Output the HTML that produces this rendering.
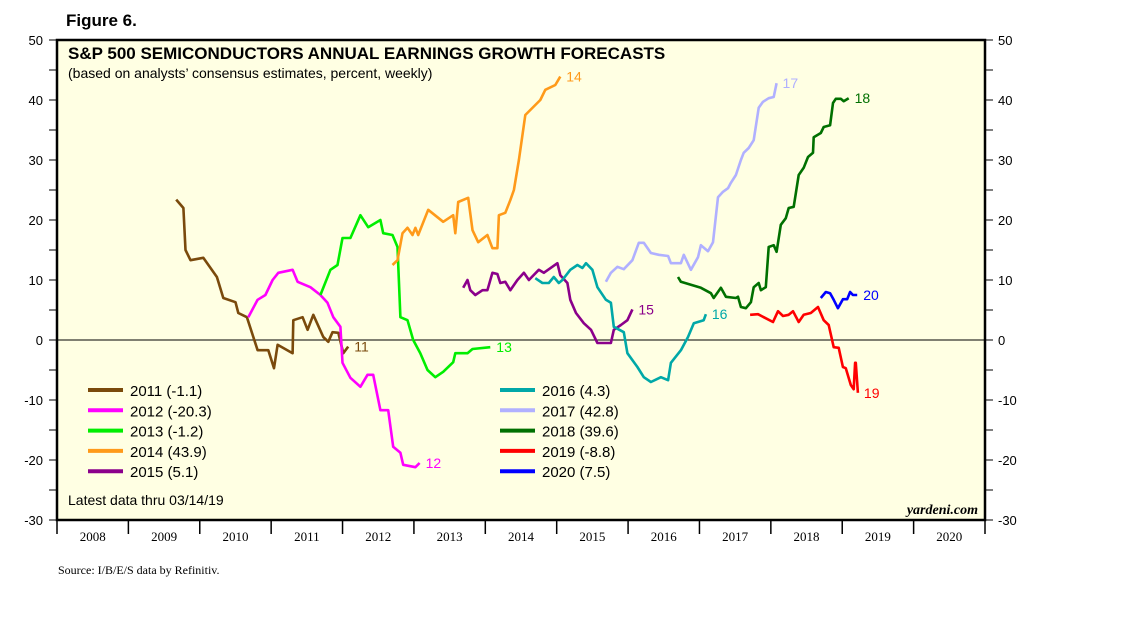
<!DOCTYPE html>
<html><head><meta charset="utf-8"><style>
body{margin:0;background:#fff;width:1138px;height:621px;overflow:hidden;font-family:"Liberation Sans",sans-serif}
</style></head><body>
<svg id="c" width="1138" height="621" xmlns="http://www.w3.org/2000/svg"></svg>
<script>
const yearLabels=[2008,2009,2010,2011,2012,2013,2014,2015,2016,2017,2018,2019,2020];
const yTicks=[-30,-20,-10,0,10,20,30,40,50];
const seriesNames=["11","12","13","14","15","16","17","18","19","20"];
const seriesColors=["#7a4a0c","#ff00ff","#00ee00","#ff9a1a","#8b008b","#00a8a8","#b0b0ff","#007000","#ff0000","#0000ff"];
const legendLabels=["2011 (-1.1)","2012 (-20.3)","2013 (-1.2)","2014 (43.9)","2015 (5.1)","2016 (4.3)","2017 (42.8)","2018 (39.6)","2019 (-8.8)","2020 (7.5)"];
const t11=[2009.67,2009.77,2009.80,2009.87,2010.05,2010.24,2010.33,2010.50,2010.54,2010.66,2010.81,2010.96,2011.04,2011.09,2011.30,2011.31,2011.44,2011.51,2011.59,2011.73,2011.80,2011.86,2011.94,2012.01,2012.08];
const v11=[23.4,22,15,13.3,13.7,10.5,7,6.3,4.5,3.8,-1.7,-1.7,-4.7,-0.8,-2.2,3.3,3.8,1.7,4.2,0.5,-0.3,1.3,1.2,-2.2,-1.1];
const t12=[2010.68,2010.81,2010.92,2011.02,2011.10,2011.30,2011.37,2011.55,2011.69,2011.79,2011.87,2011.97,2012.00,2012.11,2012.25,2012.35,2012.43,2012.53,2012.64,2012.71,2012.81,2012.85,2013.02,2013.08];
const v12=[3.8,6.7,7.5,10,11.2,11.7,9.7,8.8,7.5,6.2,3.8,2.2,-3.8,-6.3,-7.8,-5.8,-5.8,-11.7,-11.7,-17.8,-18.8,-20.8,-21.2,-20.5];
const t13=[2011.69,2011.83,2011.93,2012.00,2012.11,2012.25,2012.36,2012.53,2012.57,2012.70,2012.77,2012.81,2012.91,2012.99,2013.09,2013.19,2013.30,2013.41,2013.55,2013.58,2013.75,2013.82,2014.07];
const v13=[7.5,11.7,12.5,17,17,20.8,18.8,20,17.8,17.5,15.5,3.8,3.3,0,-2.2,-5,-6.2,-5.3,-3.7,-2.2,-2.2,-1.5,-1.2];
const t14=[2012.70,2012.77,2012.84,2012.91,2012.98,2013.02,2013.06,2013.20,2013.41,2013.55,2013.58,2013.62,2013.76,2013.82,2013.90,2014.03,2014.10,2014.17,2014.19,2014.28,2014.35,2014.40,2014.47,2014.56,2014.77,2014.84,2014.98,2015.05];
const v14=[12.5,13.3,17.8,18.7,17.5,18.7,17.5,21.7,19.7,20.8,17.8,23,23.7,18.3,16.3,17.5,15.3,15.3,20.8,21.2,23.3,25,30,37.5,40,41.7,42.5,43.9];
const t15=[2013.69,2013.75,2013.79,2013.86,2013.96,2014.03,2014.10,2014.17,2014.21,2014.28,2014.35,2014.45,2014.54,2014.61,2014.75,2014.82,2015.01,2015.05,2015.15,2015.19,2015.27,2015.38,2015.48,2015.57,2015.76,2015.80,2015.90,2015.99,2016.06];
const v15=[8.7,10,8.3,7.5,8.3,8.3,11.2,11,9.5,9.7,8.3,10,11.2,10,11.7,11.2,12.8,10.8,9.5,6.7,4.5,2.8,1.7,-0.5,-0.5,1.7,2.5,3.3,5.1];
const t16=[2014.70,2014.80,2014.89,2014.96,2015.03,2015.08,2015.19,2015.29,2015.36,2015.41,2015.50,2015.57,2015.69,2015.76,2015.80,2015.94,2015.99,2016.13,2016.22,2016.32,2016.46,2016.56,2016.60,2016.74,2016.84,2016.92,2017.06,2017.09];
const v16=[10.3,9.5,9.5,10.5,9.5,10,11.7,12.5,12,12.8,11.7,8.8,6.7,6.2,2.2,1.3,-2.2,-4.5,-6.2,-7,-6.2,-6.7,-3.8,-1.7,0.5,2.8,3.3,4.3];
const t17=[2015.69,2015.76,2015.85,2015.94,2016.06,2016.15,2016.22,2016.32,2016.43,2016.56,2016.60,2016.74,2016.78,2016.88,2016.98,2017.02,2017.12,2017.19,2017.26,2017.33,2017.40,2017.44,2017.51,2017.58,2017.62,2017.69,2017.76,2017.83,2017.89,2017.97,2018.04,2018.08];
const v17=[9.7,11.2,12.2,11.8,13.3,16.2,16.2,14.5,14.2,14,12.8,12.8,14.2,11.7,13.8,15.8,14.8,16.3,23.8,24.7,25.3,26.2,27.5,30,31.2,32,33.3,38.7,39.7,40.3,40.5,42.8];
const t18=[2016.70,2016.74,2016.88,2017.02,2017.16,2017.20,2017.30,2017.37,2017.51,2017.54,2017.58,2017.65,2017.72,2017.76,2017.83,2017.86,2017.93,2017.97,2018.04,2018.08,2018.14,2018.21,2018.25,2018.32,2018.39,2018.46,2018.52,2018.59,2018.60,2018.70,2018.74,2018.83,2018.87,2018.91,2018.98,2019.02,2019.09];
const v18=[10.5,9.7,9.2,8.7,7.8,7,8.7,7.2,7,7.2,5.5,5.3,6.3,8.8,9.5,8.3,8.8,15.5,15.8,14.7,19.2,20.3,22,22.2,27.5,28.7,30.5,31.2,33.8,34.5,35.5,35.8,39.5,40.2,40.2,39.8,40.3];
const t19=[2017.71,2017.82,2017.90,2018.03,2018.10,2018.17,2018.25,2018.31,2018.39,2018.46,2018.56,2018.66,2018.74,2018.81,2018.88,2018.95,2019.01,2019.05,2019.12,2019.16,2019.18,2019.19,2019.22];
const v19=[4.2,4.3,3.8,3,4.8,4,4.2,4.8,3,4.2,4.5,5.5,3.3,2.5,-1.2,-1.3,-4.5,-4.7,-7.5,-8.2,-3.8,-3.8,-8.8];
const t20=[2018.70,2018.77,2018.83,2018.88,2018.94,2019.01,2019.07,2019.11,2019.15,2019.21];
const v20=[7,8,7.8,6.7,5.3,6.8,6.8,8,7.5,7.5];
const allT=[t11,t12,t13,t14,t15,t16,t17,t18,t19,t20];
const allV=[v11,v12,v13,v14,v15,v16,v17,v18,v19,v20];

const X0=57,X1=985,Y0=40,Y1=520;
const xS=t=>X0+(t-2008)*(X1-X0)/13;
const yS=v=>Y1-(v+30)*(Y1-Y0)/80;
const svg=document.getElementById('c');
const NS='http://www.w3.org/2000/svg';
function mk(tag,attrs,txt){const e=document.createElementNS(NS,tag);for(const k in attrs)e.setAttribute(k,attrs[k]);if(txt!==undefined)e.textContent=txt;svg.appendChild(e);return e;}
let e;
e=mk('text',{x:66,y:26,'font-size':17,'font-weight':'bold'},'Figure 6.');


e=mk('rect',{x:X0,y:Y0,width:X1-X0,height:Y1-Y0,fill:'#ffffe3',stroke:'#000','stroke-width':2.5});


for(let v=-30;v<=50;v+=5){
  const y=yS(v);
  e=mk('line',{x1:X0-8,x2:X0,y1:y,y2:y,stroke:'#000'});
  
  
  e=mk('line',{x1:X1,x2:X1+8,y1:y,y2:y,stroke:'#000'});
  
  
}
yTicks.forEach(v=>{
  const y=yS(v);
  e=mk('text',{x:X0-14,y:y+5,'font-size':13,'text-anchor':'end'},v);
  
  
  e=mk('text',{x:X1+13,y:y+5,'font-size':13},v);
  
  
});
e=mk('line',{x1:X0,x2:X1,y1:yS(0),y2:yS(0),stroke:'#000','stroke-width':1});


for(let i=0;i<=yearLabels.length;i++){
  const x=xS(2008+i);
  e=mk('line',{x1:x,x2:x,y1:Y1,y2:Y1+14,stroke:'#000','stroke-width':1.5});
  
  
}
yearLabels.forEach(yr=>{
  e=mk('text',{x:xS(yr+0.5),y:Y1+21,'font-size':13,'text-anchor':'middle','font-family':'Liberation Serif, serif'},yr);
  
  
});
e=mk('text',{x:68,y:59,'font-size':17,'font-weight':'bold'},'S&P 500 SEMICONDUCTORS ANNUAL EARNINGS GROWTH FORECASTS');


e=mk('text',{x:68,y:78,'font-size':14},'(based on analysts\u2019 consensus estimates, percent, weekly)');


allT.forEach((ts,i)=>{
  const vs=allV[i];
  const d=ts.map((t,j)=>(j?'L':'M')+xS(t).toFixed(1)+','+yS(vs[j]).toFixed(1)).join('');
  e=mk('path',{d:d,fill:'none',stroke:seriesColors[i],'stroke-width':2.6,'stroke-linejoin':'round'});
  
  
  const lt=ts[ts.length-1],lv=vs[vs.length-1];
  e=mk('text',{x:xS(lt)+6,y:yS(lv)+5,'font-size':14,fill:seriesColors[i]},seriesNames[i]);
  
  
});
legendLabels.forEach((lab,i)=>{
  const col=i<5?0:1,row=i%5;
  const lx=col?500:88,ly=390+row*20.3;
  e=mk('line',{x1:lx,x2:lx+35,y1:ly,y2:ly,stroke:seriesColors[i],'stroke-width':4});
  
  
  e=mk('text',{x:lx+42,y:ly+6,'font-size':15},lab);
  
  
});
e=mk('text',{x:68,y:505,'font-size':14},'Latest data thru 03/14/19');


e=mk('text',{x:978,y:514,'font-size':14,'font-style':'italic','font-weight':'bold','text-anchor':'end','font-family':'Liberation Serif, serif'},'yardeni.com');


e=mk('text',{x:58,y:574,'font-size':12,'font-family':'Liberation Serif, serif'},'Source: I/B/E/S data by Refinitiv.');


</script>
</body></html>
